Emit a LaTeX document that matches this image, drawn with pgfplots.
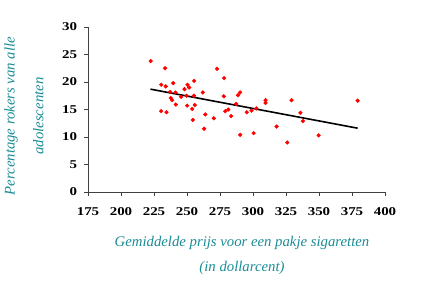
\documentclass[border=0pt]{standalone}
\usepackage{pgfplots}
\pgfplotsset{compat=1.18}
\usepackage{fontspec}
\setmainfont{Liberation Serif}
\definecolor{labelteal}{RGB}{25,140,150}

\pgfplotstableread{
x y
222.5 23.8
233.4 22.5
272.8 22.4
230.5 19.5
233.9 19.2
239.6 19.8
255.4 20.2
250.4 19.5
251.6 19.0
248.1 18.7
237.2 18.2
241.3 18.1
262.0 18.1
255.2 17.5
249.6 17.5
237.7 17.1
245.5 17.3
238.7 16.7
241.5 15.9
250.1 15.7
255.9 15.8
253.9 15.1
230.4 14.7
234.5 14.5
263.9 14.1
270.3 13.4
254.4 13.1
263.0 11.5
278.1 20.7
277.9 17.4
288.7 17.6
290.2 18.1
287.2 16.0
309.5 16.7
309.5 16.2
281.3 15.0
279.0 14.7
283.4 13.8
295.3 14.5
298.9 14.8
302.5 15.2
317.9 11.9
300.5 10.7
290.3 10.4
325.9 9.0
329.2 16.7
379.3 16.6
335.9 14.4
337.8 12.9
349.7 10.3
}\smokers

\begin{document}
\begin{tikzpicture}
\useasboundingbox (-88bp,-96bp) rectangle (333bp,192bp);
\begin{axis}[
  at={(0,0)}, anchor=south west,
  scale only axis, width=297bp, height=165bp,
  xmin=175, xmax=400, ymin=0, ymax=30,
  xtick={175,200,...,400}, ytick={0,5,...,30},
  axis lines*=left,
  tick align=outside, major tick length=4bp,
  axis line style={line width=0.8bp, black!75},
  tick style={line width=0.8bp, black!75},
  /pgf/number format/assume math mode=true,
  ticklabel style={font=\bfseries\fontsize{12}{12}\selectfont, xscale=1.25},
  xticklabel style={yshift=-8bp},
  yticklabel style={xshift=-2bp},
  xlabel={Gemiddelde prijs voor een pakje sigaretten\\(in dollarcent)},
  xlabel style={at={(axis description cs:0.5185,0)}, anchor=north, yshift=-44bp,
    inner sep=0pt, align=center, text=labelteal,
    font=\itshape\fontsize{14.8}{25}\selectfont},
  ylabel={Percentage rokers van alle\\adolescenten},
  ylabel style={at={(axis description cs:-0.2155,0.46)}, anchor=center,
    inner sep=0pt, align=center, text=labelteal,
    font=\itshape\fontsize{14.8}{29}\selectfont},
]
\addplot[only marks, mark=*, mark size=1.9bp, color=red, mark options={draw=none, fill=red}]
  table[x=x, y=y] {\smokers};
\addplot[black, line width=1.6bp] coordinates {(222.3,18.7) (379.3,11.6)};
\end{axis}
\end{tikzpicture}
\end{document}
